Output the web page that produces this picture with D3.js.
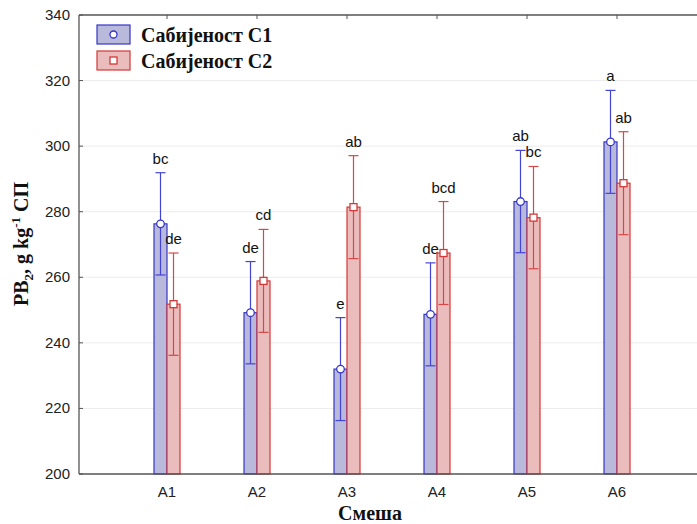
<!DOCTYPE html>
<html>
<head>
<meta charset="utf-8">
<script src="https://cdn.jsdelivr.net/npm/d3@7/dist/d3.min.js"></script>
<style>
  body { margin: 0; background: #fff; }
  svg { display: block; }
</style>
</head>
<body>
<script>
'use strict';

const categories = ["A1", "A2", "A3", "A4", "A5", "A6"];
const seriesNames = ["Сабијеност C1", "Сабијеност C2"];
const meanC1 = [276.3, 249.2, 232.0, 248.7, 283.1, 301.3];
const meanC2 = [251.8, 258.9, 281.4, 267.4, 278.2, 288.7];
const errC1 = [15.6, 15.6, 15.7, 15.7, 15.6, 15.7];
const errC2 = [15.6, 15.7, 15.7, 15.7, 15.6, 15.7];
const lettersC1 = ["bc", "de", "e", "de", "ab", "a"];
const lettersC2 = ["de", "cd", "ab", "bcd", "bc", "ab"];
const yTicks = [200, 220, 240, 260, 280, 300, 320, 340];

let width = 697,
    height = 524,
    pLeft = 79, pTop = 15, pBottom = 474, pRight = 697,
    barW = 13,
    svg = d3.select("body").append("svg")
            .attr("width", width)
            .attr("height", height);

let x = d3.scalePoint().domain(categories).range([167, 617]);
let y = d3.scaleLinear().domain([200, 340]).range([pBottom, pTop]);

let colors = [
  { fill: "#b9b9dc", stroke: "#3535c8", err: "#4444d4" },
  { fill: "#eabcbc", stroke: "#d43838", err: "#d64848" }
];

// grid
svg.append("g").selectAll("line")
    .data(yTicks.slice(1, -1))
  .join("line")
    .attr("x1", pLeft).attr("x2", pRight)
    .attr("y1", d => y(d)).attr("y2", d => y(d))
    .style("stroke", "#ececec")
    .style("stroke-width", 1);

// y axis labels
svg.append("g").selectAll("text")
    .data(yTicks)
  .join("text")
    .attr("x", pLeft - 9)
    .attr("y", d => y(d) + 5)
    .attr("text-anchor", "end")
    .style("font-family", "Liberation Sans, Arial, sans-serif")
    .style("font-size", "15px")
    .style("fill", "#222")
    .text(d => d);

svg.append("g").selectAll("line")
    .data(yTicks)
  .join("line")
    .attr("x1", pLeft).attr("x2", pLeft + 4)
    .attr("y1", d => y(d)).attr("y2", d => y(d))
    .style("stroke", "#555");

let series = [
  { vals: meanC1, errs: errC1, letters: lettersC1, off: -barW / 2 },
  { vals: meanC2, errs: errC2, letters: lettersC2, off: barW / 2 }
];

series.forEach((s, si) => {
  let g = svg.append("g");
  let c = colors[si];
  let cx = (d, i) => x(categories[i]) + s.off;

  g.selectAll("rect.bar")
      .data(s.vals)
    .join("rect")
      .attr("class", "bar")
      .attr("x", (d, i) => cx(d, i) - barW / 2)
      .attr("y", d => y(d))
      .attr("width", barW)
      .attr("height", d => pBottom - y(d))
      .style("fill", c.fill)
      .style("stroke", c.stroke)
      .style("stroke-width", 1.2);

  // error bars
  g.selectAll("line.err")
      .data(s.vals)
    .join("line")
      .attr("class", "err")
      .attr("x1", cx).attr("x2", cx)
      .attr("y1", (d, i) => y(d + s.errs[i]))
      .attr("y2", (d, i) => y(d - s.errs[i]))
      .style("stroke", c.err)
      .style("stroke-width", 1.2);

  [1, -1].forEach(sign => {
    let cls = "cap" + (sign > 0 ? "t" : "b");
    g.selectAll("line." + cls)
        .data(s.vals)
      .join("line")
        .attr("class", cls)
        .attr("x1", (d, i) => cx(d, i) - 5)
        .attr("x2", (d, i) => cx(d, i) + 5)
        .attr("y1", (d, i) => y(d + sign * s.errs[i]))
        .attr("y2", (d, i) => y(d + sign * s.errs[i]))
        .style("stroke", c.err)
        .style("stroke-width", 1.2);
  });

  // markers
  if (si === 0) {
    g.selectAll("circle")
        .data(s.vals)
      .join("circle")
        .attr("cx", cx)
        .attr("cy", d => y(d))
        .attr("r", 3.8)
        .style("fill", "#fff")
        .style("stroke", c.stroke)
        .style("stroke-width", 1.3);
  } else {
    g.selectAll("rect.mk")
        .data(s.vals)
      .join("rect")
        .attr("class", "mk")
        .attr("x", (d, i) => cx(d, i) - 3.5)
        .attr("y", d => y(d) - 3.5)
        .attr("width", 7)
        .attr("height", 7)
        .style("fill", "#fff")
        .style("stroke", c.stroke)
        .style("stroke-width", 1.3);
  }

  // significance letters
  g.selectAll("text")
      .data(s.vals)
    .join("text")
      .attr("x", cx)
      .attr("y", (d, i) => y(d + s.errs[i]) - 9)
      .attr("text-anchor", "middle")
      .style("font-family", "Liberation Sans, Arial, sans-serif")
      .style("font-size", "15px")
      .style("fill", "#111")
      .text((d, i) => s.letters[i]);
});

// frame: bottom axis, left axis, top border
svg.append("line")
    .attr("x1", pLeft).attr("x2", pRight)
    .attr("y1", pBottom).attr("y2", pBottom)
    .style("stroke", "#555").style("stroke-width", 1.3);
svg.append("line")
    .attr("x1", pLeft).attr("x2", pRight)
    .attr("y1", pTop).attr("y2", pTop)
    .style("stroke", "#555").style("stroke-width", 1.3);
svg.append("line")
    .attr("x1", pLeft).attr("x2", pLeft)
    .attr("y1", pTop).attr("y2", pBottom)
    .style("stroke", "#555").style("stroke-width", 1.3);

svg.append("g").selectAll("line")
    .data(categories)
  .join("line")
    .attr("x1", d => x(d)).attr("x2", d => x(d))
    .attr("y1", pTop).attr("y2", pTop + 4)
    .style("stroke", "#555");

// x tick labels
svg.append("g").selectAll("text")
    .data(categories)
  .join("text")
    .attr("x", d => x(d))
    .attr("y", pBottom + 23)
    .attr("text-anchor", "middle")
    .style("font-family", "Liberation Sans, Arial, sans-serif")
    .style("font-size", "15px")
    .style("fill", "#222")
    .text(d => d);

// axis titles
svg.append("text")
    .attr("x", 370)
    .attr("y", 520)
    .attr("text-anchor", "middle")
    .style("font-family", "Liberation Serif, Times New Roman, serif")
    .style("font-weight", "bold")
    .style("font-size", "20px")
    .style("fill", "#111")
    .text("Смеша");

let yt = svg.append("text")
    .attr("transform", "translate(28,244) rotate(-90)")
    .attr("text-anchor", "middle")
    .style("font-family", "Liberation Serif, Times New Roman, serif")
    .style("font-weight", "bold")
    .style("font-size", "20px")
    .style("fill", "#111");
yt.append("tspan").text("PB");
yt.append("tspan").attr("dy", 5).style("font-size", "13px").text("2");
yt.append("tspan").attr("dy", -5).text(", g kg");
yt.append("tspan").attr("dy", -8).style("font-size", "13px").text("-1");
yt.append("tspan").attr("dy", 8).text(" СП");

// legend
let legend = svg.append("g").selectAll("g")
    .data(seriesNames)
  .join("g")
    .attr("transform", (d, i) => `translate(97,${25 + i * 26})`);

legend.append("rect")
    .attr("width", 33)
    .attr("height", 19)
    .style("fill", (d, i) => colors[i].fill)
    .style("stroke", (d, i) => colors[i].stroke)
    .style("stroke-width", 1.2);

legend.filter((d, i) => i === 0).append("circle")
    .attr("cx", 16.5).attr("cy", 9.5).attr("r", 3.5)
    .style("fill", "#fff").style("stroke", colors[0].stroke).style("stroke-width", 1.3);
legend.filter((d, i) => i === 1).append("rect")
    .attr("x", 13).attr("y", 6).attr("width", 7).attr("height", 7)
    .style("fill", "#fff").style("stroke", colors[1].stroke).style("stroke-width", 1.3);

legend.append("text")
    .attr("x", 44)
    .attr("y", 17)
    .style("font-family", "Liberation Serif, Times New Roman, serif")
    .style("font-weight", "bold")
    .style("font-size", "20px")
    .style("fill", "#111")
    .text(d => d);
</script>
</body>
</html>
